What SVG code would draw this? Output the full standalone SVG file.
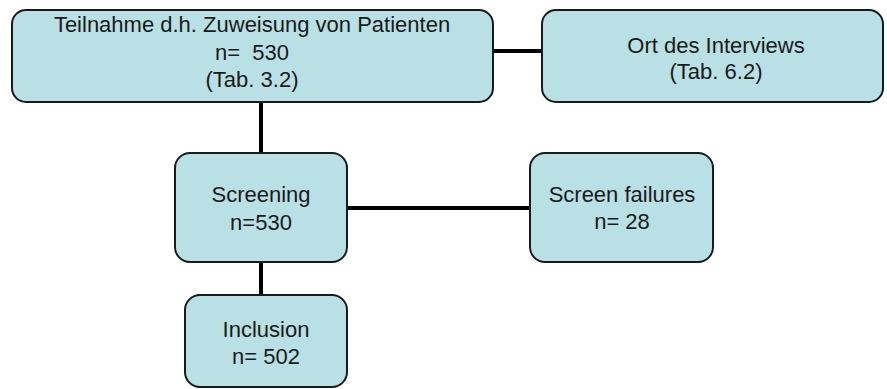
<svg xmlns="http://www.w3.org/2000/svg" width="887" height="389" viewBox="0 0 887 389">
  <style>
    .box { fill: #b9e0e4; stroke: #1a1a1a; stroke-width: 2; }
    .lbl { font-family: "Liberation Sans", Arial, sans-serif; font-size: 22px; fill: #1a1a1a; text-anchor: middle; }
    .conn { stroke: #000; stroke-width: 4; fill: none; }
  </style>
  <rect width="887" height="389" fill="#ffffff"/>
  <g id="connectors">
    <line class="conn" x1="493" y1="51" x2="542" y2="51"/>
    <line class="conn" x1="261" y1="102" x2="261" y2="153"/>
    <line class="conn" x1="347" y1="208" x2="530" y2="208"/>
    <line class="conn" x1="261" y1="262" x2="261" y2="295"/>
  </g>
  <g id="teilnahme">
    <rect class="box" x="12" y="10" width="481" height="92" rx="14"/>
    <text class="lbl" x="252" y="32">Teilnahme d.h. Zuweisung von Patienten</text>
    <text class="lbl" x="252" y="59.5" xml:space="preserve">n=  530</text>
    <text class="lbl" x="252" y="87">(Tab. 3.2)</text>
  </g>
  <g id="ort">
    <rect class="box" x="542" y="10" width="341" height="92" rx="14"/>
    <text class="lbl" x="716" y="53">Ort des Interviews</text>
    <text class="lbl" x="716" y="79">(Tab. 6.2)</text>
  </g>
  <g id="screening">
    <rect class="box" x="175" y="153" width="172" height="109" rx="15"/>
    <text class="lbl" x="261" y="202">Screening</text>
    <text class="lbl" x="261" y="230">n=530</text>
  </g>
  <g id="screenfailures">
    <rect class="box" x="530" y="153" width="183" height="109" rx="15"/>
    <text class="lbl" x="622" y="202">Screen failures</text>
    <text class="lbl" x="622" y="229">n= 28</text>
  </g>
  <g id="inclusion">
    <rect class="box" x="185" y="295" width="162" height="92" rx="15"/>
    <text class="lbl" x="266" y="337">Inclusion</text>
    <text class="lbl" x="266" y="364">n= 502</text>
  </g>
</svg>
